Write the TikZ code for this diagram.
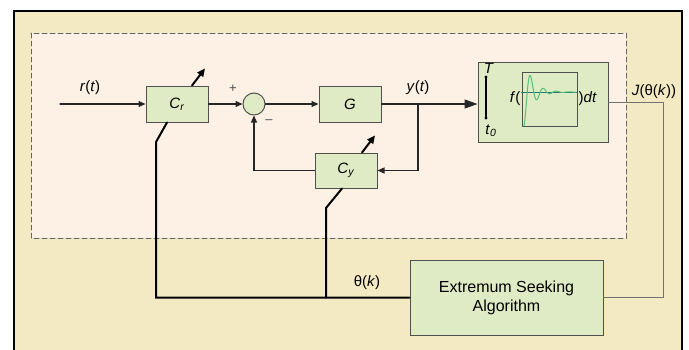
\documentclass[tikz,border=0pt]{standalone}
\usepackage{fontspec}
\setmainfont{Liberation Sans}
\usetikzlibrary{arrows.meta}
\usetikzlibrary{positioning}
\definecolor{frameyellow}{RGB}{243,234,196}
\definecolor{innerpink}{RGB}{253,240,228}
\definecolor{boxgreen}{RGB}{223,235,196}
\definecolor{boxline}{RGB}{80,80,80}
\definecolor{plotgreen}{RGB}{90,190,120}
\definecolor{plotteal}{RGB}{30,120,110}
\tikzset{>={Triangle[length=7pt,width=6pt]},
  block/.style={draw=boxline,fill=boxgreen,line width=1pt,
    minimum width=62pt,minimum height=36pt,inner sep=0pt,
    font=\fontsize{15}{17}\selectfont},
  sig/.style={line width=1.2pt,draw=black!85},
  tune/.style={line width=2pt,draw=black},
  lbl/.style={font=\fontsize{15}{17}\selectfont,inner sep=1pt}}

\begin{document}
\begin{tikzpicture}[x=1pt,y=-1pt,line cap=round]
  \useasboundingbox (0,0) rectangle (689,349);

  % frame and dashed region
  \fill [frameyellow] (14,11) rectangle (682,352);
  \draw [line width=2.5pt] (14,352) -- (14,11) -- (682,11) -- (682,352);
  \draw [fill=innerpink, draw=black!60, line width=1pt,
    dash pattern=on 5pt off 3pt] (31,33) rectangle (626,238);

  \node [block] (cr) at (177,104) {\textit{C}\textsubscript{\textit{r}}};
  \node [circle, draw=boxline, fill=boxgreen, line width=1pt,
    minimum size=22pt, inner sep=0pt] (sum) at (254,104) {};
  \node [block] (g) at (350,104) {\textit{G}};
  \node [block, minimum height=35pt] (cy) at (346,170.5) {\textit{C}\textsubscript{\textit{y}}};
  \node [block, minimum width=130pt, minimum height=80pt] (integ) at (543,102) {};
  \node [block, minimum width=55pt, minimum height=54pt] (plot) at (549.5,99) {};
  \node [block, minimum width=193pt, minimum height=75pt, align=center,
    font=\fontsize{16}{19}\selectfont] (esa) at (506.5,297.5) {Extremum Seeking\\Algorithm};

  \coordinate (rin) at (60,104);
  \coordinate (ybr) at (418,104);
  \coordinate (crtail) at (156,142);
  \coordinate (cytail) at (326,208);
  \coordinate (lvl) at (0,92);

  % signal path
  \draw [sig,->] (rin) -- (cr.west);
  \draw [sig,->] (cr.east) -- (sum.west);
  \draw [sig,->] (sum.east) -- (g.west);
  \draw [sig,-{Triangle[length=13pt,width=9pt]}] (g.east) -- (g.east -| integ.west);
  \draw [sig,->] (ybr) |- (cy.east);
  \draw [sig,->] (cy.west) -| (sum.south);
  \draw [line width=1pt, draw=black!55] (integ.east) -- ++(55,0) |- (esa.east);

  % parameter update
  \draw [tune] (esa.west) -| (crtail) -- ([xshift=-10pt]cr.south);
  \draw [tune,-{Triangle[length=8pt,width=7pt]}] ([xshift=15pt]cr.north) -- ++(13,-17);
  \draw [tune] (esa.west -| cytail) -- (cytail) -- ([xshift=-4pt]cy.south);
  \draw [tune,-{Triangle[length=8pt,width=7pt]}] ([xshift=16pt]cy.north) -- ++(13,-17);

  % integral and plot
  \draw [line width=1.5pt] (486,77) -- (486,118);
  \fill (486,77) circle (1.6pt);
  \fill (486,118) circle (1.6pt);
  \node [lbl] (tup) at (489,68) {\textit{T}};
  \node [lbl] (tlow) at (491,131) {\textit{t}\textsubscript{\textit{0}}};
  \node [lbl, left=0pt of plot] (fopen) {\textit{f}(};
  \node [lbl, right=0pt of plot] (fclose) {)\textit{dt}};
  \draw [plotteal, line width=1pt] (plot.west |- lvl) -- (plot.east |- lvl);
  \draw [plotgreen, line width=1pt] plot [domain=0:52, samples=120, smooth]
    ({524+\x}, {92+34*exp(-0.115*\x)*cos(27.7*\x)});

  \node [lbl] (rlbl) at (90,88) {\textit{r}(\textit{t})};
  \node [lbl] (ylbl) at (418,88) {\textit{y}(\textit{t})};
  \node [lbl] (jlbl) at (654,92) {\textit{J}(θ(\textit{k}))};
  \node [lbl] (thlbl) at (367,283) {θ(\textit{k})};
  \node [font=\fontsize{13}{14}\selectfont, text=black!70] (plus) at (233,89) {+};
  \node [font=\fontsize{13}{14}\selectfont, text=black!70] (minus) at (269,122) {–};

\end{tikzpicture}
\end{document}
